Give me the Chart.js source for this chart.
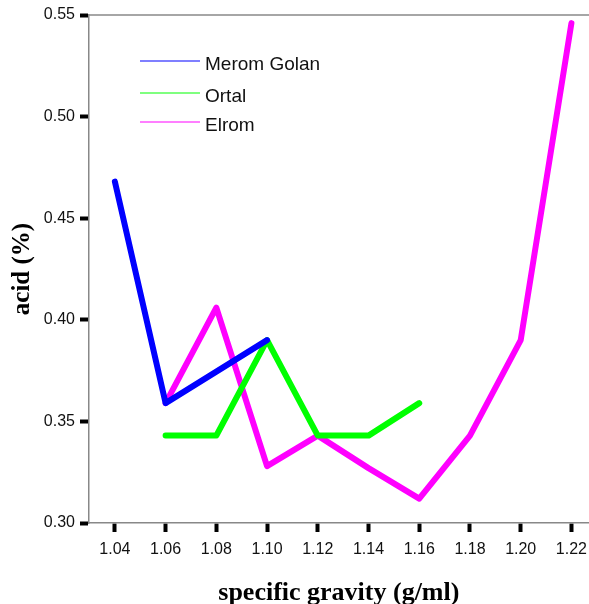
<!DOCTYPE html>
<html>
<head>
<meta charset="utf-8">
<script src="https://cdn.jsdelivr.net/npm/chart.js@4"></script>
<style>
  html, body { margin: 0; padding: 0; background: #fff; overflow: hidden; }
  #wrap { width: 595px; height: 604px; }
</style>
</head>
<body>
<div id="wrap"><canvas id="acid-chart"></canvas></div>
<script>
const xTicks = [1.04, 1.06, 1.08, 1.10, 1.12, 1.14, 1.16, 1.18, 1.20, 1.22];
const yTicks = [0.30, 0.35, 0.40, 0.45, 0.50, 0.55];

const meromX = [1.04, 1.06, 1.10];
const meromY = [0.468, 0.359, 0.390];

const ortalX = [1.06, 1.08, 1.10, 1.12, 1.14, 1.16];
const ortalY = [0.343, 0.343, 0.390, 0.343, 0.343, 0.359];

const elromX = [1.06, 1.08, 1.10, 1.12, 1.14, 1.16, 1.18, 1.20, 1.22];
const elromY = [0.359, 0.406, 0.328, 0.343, 0.327, 0.312, 0.343, 0.390, 0.546];

const seriesNames = ['Merom Golan', 'Ortal', 'Elrom'];
const seriesColors = ['#0000ff', '#00ff00', '#ff00ff'];

const ctx = document.getElementById('acid-chart');

function toPoints(xs, ys) {
  return xs.map((x, i) => ({ x: x, y: ys[i] }));
}

function makeDataset(i, xs, ys) {
  return {
    label: seriesNames[i],
    data: toPoints(xs, ys),
    borderColor: seriesColors[i],
    backgroundColor: seriesColors[i],
    borderWidth: 6,
    borderCapStyle: 'round',
    borderJoinStyle: 'round',
    pointRadius: 0,
    tension: 0
  };
}

// top frame line + legend drawn inside the plot
const framePlugin = {
  id: 'frameLegend',
  afterDraw(chart) {
    const c = chart.ctx;
    const a = chart.chartArea;
    c.save();
    c.strokeStyle = '#888';
    c.lineWidth = 1.5;
    c.beginPath();
    c.moveTo(a.left, a.top);
    c.lineTo(chart.width, a.top);
    c.stroke();

    c.font = '19px "Liberation Sans", Arial, sans-serif';
    c.textBaseline = 'alphabetic';
    c.fillStyle = '#111';
    const rows = [61, 93, 122];
    chart.data.datasets.forEach((ds, i) => {
      c.strokeStyle = ds.borderColor;
      c.lineWidth = 1.2;
      c.beginPath();
      c.moveTo(140, rows[i]);
      c.lineTo(200, rows[i]);
      c.stroke();
      c.fillText(ds.label, 205, rows[i] + 9);
    });
    c.restore();
  }
};

const chartConfig = {
  type: 'line',
  data: {
    datasets: [
      makeDataset(0, meromX, meromY),
      makeDataset(1, ortalX, ortalY),
      makeDataset(2, elromX, elromY)
    ]
  },
  options: {
    responsive: true,
    maintainAspectRatio: false,
    animation: false,
    layout: { padding: { top: 15, right: 0, left: 0, bottom: 0 } },
    plugins: {
      legend: { display: false },
      tooltip: { enabled: false }
    },
    scales: {
      x: {
        type: 'linear',
        min: 1.0298,
        max: 1.2268,
        afterBuildTicks: (axis) => { axis.ticks = xTicks.map(v => ({ value: v })); },
        afterFit: (axis) => { axis.height = 81; },
        border: { color: '#888', width: 1.5 },
        grid: { drawOnChartArea: false, drawTicks: true, tickLength: 9, tickWidth: 4, tickColor: '#000' },
        ticks: {
          color: '#111',
          padding: 8,
          maxRotation: 0,
          font: { family: '"Liberation Sans", Arial, sans-serif', size: 16 },
          callback: (v) => Number(v).toFixed(2)
        },
        title: {
          display: true,
          text: 'specific gravity (g/ml)',
          color: '#000',
          padding: { top: 10, bottom: -5 },
          font: { family: '"Liberation Serif", "Times New Roman", serif', size: 26, weight: 'bold' }
        }
      },
      y: {
        type: 'linear',
        min: 0.30,
        max: 0.55,
        afterBuildTicks: (axis) => { axis.ticks = yTicks.map(v => ({ value: v })); },
        afterFit: (axis) => { axis.width = 89; },
        border: { color: '#888', width: 1.5 },
        grid: { drawOnChartArea: false, drawTicks: true, tickLength: 9, tickWidth: 4, tickColor: '#000' },
        ticks: {
          color: '#111',
          padding: 5,
          font: { family: '"Liberation Sans", Arial, sans-serif', size: 16 },
          callback: (v) => Number(v).toFixed(2)
        },
        title: {
          display: true,
          text: 'acid (%)',
          color: '#000',
          padding: { top: 8, bottom: 4 },
          font: { family: '"Liberation Serif", "Times New Roman", serif', size: 25, weight: 'bold' }
        }
      }
    }
  },
  plugins: [framePlugin]
};

new Chart(ctx, chartConfig);
</script>
</body>
</html>
